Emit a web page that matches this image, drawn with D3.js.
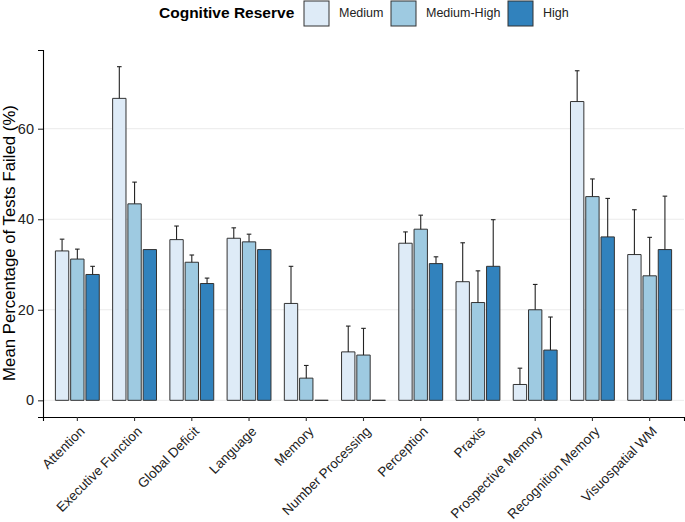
<!DOCTYPE html>
<html>
<head>
<meta charset="utf-8">
<script src="https://cdn.jsdelivr.net/npm/d3@7"></script>
<style>
  body { margin: 0; background: #fff; }
  text { font-family: "Liberation Sans", Arial, Helvetica, sans-serif; }
</style>
</head>
<body>
<div id="chart"></div>
<script>
// data
var categories = ["Attention", "Executive Function", "Global Deficit", "Language", "Memory",
    "Number Processing", "Perception", "Praxis", "Prospective Memory", "Recognition Memory", "Visuospatial WM"];
var groups = ["Medium", "Medium-High", "High"];
var colors = ["#deebf7", "#9ecae1", "#3182bd"];

var medium = [33.0, 66.7, 35.5, 35.8, 21.4, 10.7, 34.7, 26.2, 3.5, 66.0, 32.2];
var mediumUpper = [35.6, 73.7, 38.5, 38.1, 29.6, 16.4, 37.2, 34.8, 7.1, 72.8, 42.1];
var mediumHigh = [31.2, 43.4, 30.5, 35.0, 4.9, 10.0, 37.8, 21.6, 20.0, 45.0, 27.5];
var mediumHighUpper = [33.4, 48.2, 32.1, 36.7, 7.7, 15.9, 40.9, 28.6, 25.6, 48.9, 36.0];
var high = [27.8, 33.3, 25.8, 33.3, 0, 0, 30.2, 29.6, 11.1, 36.1, 33.3];
var highUpper = [29.6, null, 27.0, null, null, null, 31.7, 39.9, 18.4, 44.6, 45.1];

var yTicks = [0, 20, 40, 60];

var seriesVals = [medium, mediumHigh, high];
var seriesUpper = [mediumUpper, mediumHighUpper, highUpper];

// flatten into one row per bar
var data = [];
categories.forEach(function(cat, i){
    groups.forEach(function(g, j){
        data.push({cat: cat, group: g, gi: j, value: seriesVals[j][i], upper: seriesUpper[j][i]});
    });
});

var W = 685, H = 522;
var margin = { top: 50, right: 1, bottom: 105, left: 43 };
var width = W - margin.left - margin.right,
    height = H - margin.top - margin.bottom;

var svg = d3.select("#chart")
    .append("svg")
    .attr("width", W)
    .attr("height", H);

var g = svg.append("g")
    .attr("transform", "translate(" + margin.left + "," + margin.top + ")");

var x = d3.scaleBand()
    .domain(categories)
    .range([0, width])
    .paddingInner(0)
    .paddingOuter(0.1);

var maxTop = d3.max(data, function(d){ return d.upper == null ? d.value : d.upper; });
var pad = maxTop * 0.05;
var y = d3.scaleLinear()
    .domain([-pad, maxTop + pad])
    .range([height, 0]);

// dodge 0.8, bar width 0.7 split over 3 groups
var step = x.step();
var dodge = d3.scaleBand().domain([0, 1, 2]).range([-0.4 * step, 0.4 * step]);
var barW = 0.7 / 3 * step;

function barX(d){
    return x(d.cat) + step / 2 + dodge(d.gi) + dodge.bandwidth() / 2;
}

// grid lines
g.selectAll(".grid")
    .data(yTicks)
    .enter().append("line")
    .attr("x1", 0).attr("x2", width)
    .attr("y1", function(d){ return y(d); })
    .attr("y2", function(d){ return y(d); })
    .attr("stroke", "#ebebeb")
    .attr("stroke-width", 1);

// bars drawn as paths so zero values still show a flat line
g.selectAll(".bar")
    .data(data)
    .enter().append("path")
    .attr("d", function(d){
        var cx = barX(d);
        var x0 = cx - barW / 2, x1 = cx + barW / 2;
        return "M" + x0 + "," + y(0) + "H" + x1 + "V" + y(d.value) + "H" + x0 + "Z";
    })
    .attr("fill", function(d){ return colors[d.gi]; })
    .attr("stroke", "#333333")
    .attr("stroke-width", 1);

// upper error bars
var errs = g.selectAll(".err")
    .data(data.filter(function(d){ return d.upper != null; }))
    .enter().append("g")
    .attr("transform", function(d){ return "translate(" + barX(d) + ",0)"; });
errs.append("line")
    .attr("x1", 0).attr("x2", 0)
    .attr("y1", function(d){ return y(d.value); })
    .attr("y2", function(d){ return y(d.upper); })
    .attr("stroke", "#222").attr("stroke-width", 1.1);
errs.append("line")
    .attr("x1", -2.3).attr("x2", 2.3)
    .attr("y1", function(d){ return y(d.upper); })
    .attr("y2", function(d){ return y(d.upper); })
    .attr("stroke", "#222").attr("stroke-width", 1.1);

// axes
var yAxis = g.append("g")
    .call(d3.axisLeft(y).tickValues(yTicks).tickSize(5).tickPadding(4));
var xAxis = g.append("g")
    .attr("transform", "translate(0," + height + ")")
    .call(d3.axisBottom(x).tickSize(4));

[yAxis, xAxis].forEach(function(ax){
    ax.select(".domain").attr("stroke", "#000").attr("stroke-width", 1.1);
    ax.selectAll(".tick line").attr("stroke", "#333").attr("stroke-width", 1.1);
});
yAxis.selectAll("text")
    .attr("font-size", 14.5)
    .attr("fill", "#222");
xAxis.selectAll("text")
    .attr("font-size", 13.5)
    .attr("fill", "#222")
    .attr("text-anchor", "end")
    .attr("x", 0).attr("y", 0)
    .attr("dy", "0.75em")
    .attr("transform", "translate(1,8) rotate(-45)");

// y axis title
svg.append("text")
    .attr("transform", "translate(15,243) rotate(-90)")
    .attr("text-anchor", "middle")
    .attr("font-size", 16.8)
    .attr("fill", "#000")
    .text("Mean Percentage of Tests Failed (%)");

// legend on top
var legend = svg.append("g").attr("transform", "translate(0,13)");
legend.append("text")
    .attr("x", 159).attr("y", 0)
    .attr("dy", "0.35em")
    .attr("font-size", 15.5)
    .attr("font-weight", "bold")
    .text("Cognitive Reserve");

var keyX = [304, 391, 508];
groups.forEach(function(name, j){
    legend.append("rect")
        .attr("x", keyX[j]).attr("y", -12)
        .attr("width", 25).attr("height", 25)
        .attr("fill", colors[j])
        .attr("stroke", "#333")
        .attr("stroke-width", 1);
    legend.append("text")
        .attr("x", keyX[j] + 35).attr("y", 0)
        .attr("dy", "0.35em")
        .attr("font-size", 12.5)
        .attr("fill", "#222")
        .text(name);
});
</script>
</body>
</html>
